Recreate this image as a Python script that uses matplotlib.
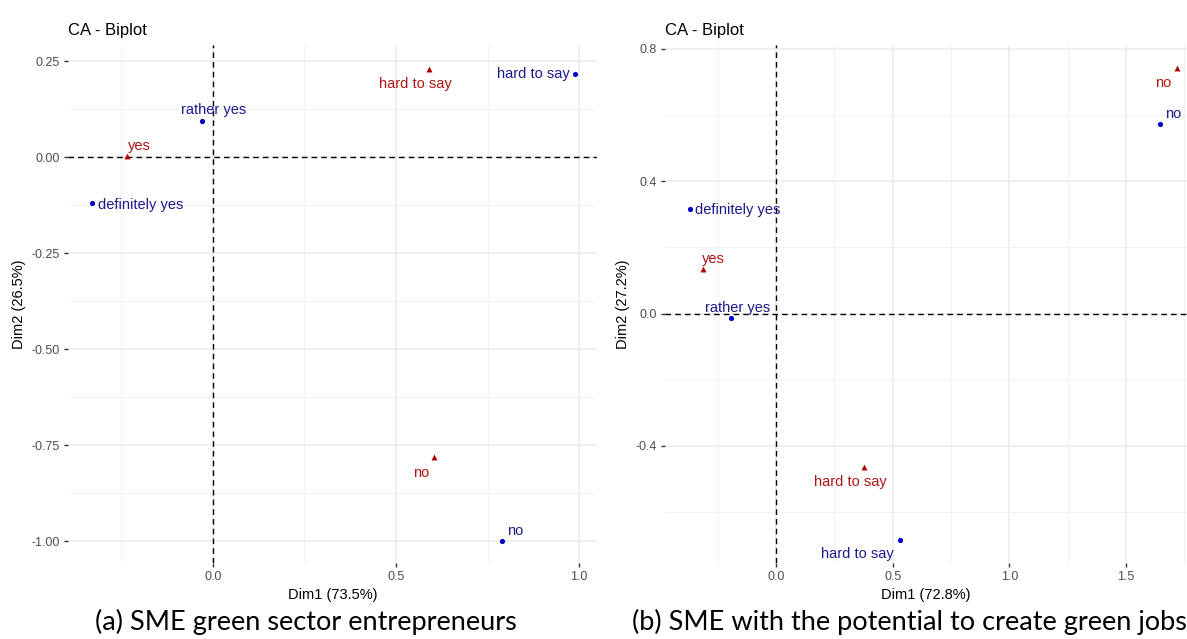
import matplotlib
matplotlib.use("Agg")
import matplotlib.pyplot as plt
from matplotlib.ticker import FixedLocator

plt.rcParams['font.family'] = ['Liberation Sans', 'DejaVu Sans']

# (a) SME green sector entrepreneurs
a_row_labels = ["definitely yes", "rather yes", "hard to say", "no"]
a_row_dim1 = [-0.33, -0.03, 0.99, 0.79]
a_row_dim2 = [-0.12, 0.094, 0.216, -1.0]
a_col_labels = ["yes", "hard to say", "no"]
a_col_dim1 = [-0.235, 0.59, 0.605]
a_col_dim2 = [0.003, 0.23, -0.78]

# (b) SME with the potential to create green jobs
b_row_labels = ["definitely yes", "rather yes", "hard to say", "no"]
b_row_dim1 = [-0.37, -0.195, 0.53, 1.648]
b_row_dim2 = [0.316, -0.014, -0.683, 0.573]
b_col_labels = ["yes", "hard to say", "no"]
b_col_dim1 = [-0.315, 0.376, 1.718]
b_col_dim2 = [0.134, -0.463, 0.743]

ROW_PT = '#0000c8'
ROW_TXT = '#1a1a8c'
COL_PT = '#b00000'
COL_TXT = '#b01515'

# label offsets in pixels (dx, dy, ha), as repel would place them
a_row_off = [(6, -2, 'left'), (12, 11, 'center'), (-6, 0, 'right'), (13, 10, 'center')]
a_col_off = [(12, 10, 'center'), (-14, -15, 'center'), (-13, -16, 'center')]
b_row_off = [(5, -1, 'left'), (7, 10, 'center'), (-42, -14, 'center'), (13, 10, 'center')]
b_col_off = [(11, 10, 'center'), (-13, -15, 'center'), (-14, -15, 'center')]


def draw_biplot(ax, rl, rx, ry, cl, cx, cy, roff, coff, xlim, ylim,
                xmaj, xmin, ymaj, ymin, yfmt, xlab, ylab):
    ax.set_xlim(*xlim)
    ax.set_ylim(*ylim)
    for s in ax.spines.values():
        s.set_visible(False)
    ax.xaxis.set_major_locator(FixedLocator(xmaj))
    ax.xaxis.set_minor_locator(FixedLocator(xmin))
    ax.yaxis.set_major_locator(FixedLocator(ymaj))
    ax.yaxis.set_minor_locator(FixedLocator(ymin))
    ax.set_xticklabels(['%.1f' % v for v in xmaj])
    ax.set_yticklabels([yfmt % v for v in ymaj])
    ax.grid(True, which='major', color='#ebebeb', lw=1.1, zorder=0)
    ax.grid(True, which='minor', color='#f2f2f2', lw=0.7, zorder=0)
    ax.tick_params(which='major', length=3, width=1, color='#333333',
                   labelsize=9, labelcolor='#4d4d4d', pad=3)
    ax.tick_params(which='minor', length=0)
    ax.set_axisbelow(True)
    ax.axhline(0, color='black', ls=(0, (4, 3)), lw=1, zorder=2)
    ax.axvline(0, color='black', ls=(0, (4, 3)), lw=1, zorder=2)
    ax.scatter(rx, ry, s=14, color=ROW_PT, marker='o', zorder=3, linewidths=0)
    ax.scatter(cx, cy, s=18, color=COL_PT, marker='^', zorder=3, linewidths=0)
    for lab, x, y, (dx, dy, ha) in zip(rl, rx, ry, roff):
        ax.annotate(lab, (x, y), xytext=(dx * 0.72, dy * 0.72),
                    textcoords='offset points', ha=ha, va='center',
                    color=ROW_TXT, fontsize=10.5, zorder=4)
    for lab, x, y, (dx, dy, ha) in zip(cl, cx, cy, coff):
        ax.annotate(lab, (x, y), xytext=(dx * 0.72, dy * 0.72),
                    textcoords='offset points', ha=ha, va='center',
                    color=COL_TXT, fontsize=10.5, zorder=4)
    ax.set_xlabel(xlab, fontsize=10.5, color='black', labelpad=3)
    ax.set_ylabel(ylab, fontsize=10.5, color='black', labelpad=4)
    ax.set_title('CA - Biplot', loc='left', fontsize=12, pad=7)


fig = plt.figure(figsize=(11.87, 6.39), dpi=100)
ax1 = fig.add_axes([68 / 1187, 76 / 639, 529 / 1187, 518 / 639])
ax2 = fig.add_axes([665 / 1187, 76 / 639, 522 / 1187, 518 / 639])

draw_biplot(ax1, a_row_labels, a_row_dim1, a_row_dim2,
            a_col_labels, a_col_dim1, a_col_dim2, a_row_off, a_col_off,
            (-0.396, 1.049), (-1.057, 0.292),
            [0.0, 0.5, 1.0], [-0.25, 0.25, 0.75],
            [0.25, 0.0, -0.25, -0.5, -0.75, -1.0],
            [0.125, -0.125, -0.375, -0.625, -0.875],
            '%.2f', 'Dim1 (73.5%)', 'Dim2 (26.5%)')

draw_biplot(ax2, b_row_labels, b_row_dim1, b_row_dim2,
            b_col_labels, b_col_dim1, b_col_dim2, b_row_off, b_col_off,
            (-0.477, 1.762), (-0.754, 0.812),
            [0.0, 0.5, 1.0, 1.5], [-0.25, 0.25, 0.75, 1.25, 1.75],
            [0.8, 0.4, 0.0, -0.4],
            [0.6, 0.2, -0.2, -0.6],
            '%.1f', 'Dim1 (72.8%)', 'Dim2 (27.2%)')

fig.text(306 / 1187, 1 - 622 / 639, '(a) SME green sector entrepreneurs',
         ha='center', va='center', fontsize=19.5, family=['Lato', 'DejaVu Sans'])
fig.text(632 / 1187, 1 - 622 / 639, '(b) SME with the potential to create green jobs',
         ha='left', va='center', fontsize=19.5, family=['Lato', 'DejaVu Sans'])

fig.savefig('out.png', dpi=100)
